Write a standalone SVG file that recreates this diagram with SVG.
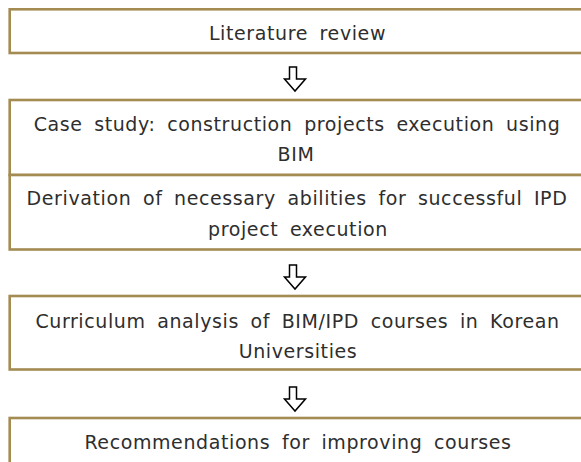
<svg xmlns="http://www.w3.org/2000/svg" width="581" height="462" viewBox="0 0 581 462">
  <style>
    .box { fill: #ffffff; stroke: #a38b52; stroke-width: 2.6; }
    .lbl { font-family: "DejaVu Sans", "Liberation Sans", sans-serif; font-size: 19px; fill: #2e2e2e; text-anchor: middle; word-spacing: 5px; letter-spacing: 0.6px; }
    .arrow { fill: #ffffff; stroke: #000000; stroke-width: 1.5; stroke-linejoin: miter; }
  </style>
  <defs>
    <path id="down" d="M -6 0 H 1 V 12 H 10 L -0.5 24 L -11 12 H -6 Z"/>
  </defs>
  <rect width="581" height="462" fill="#ffffff"/>

  <g id="literature-review">
    <rect class="box" x="9.7" y="9.3" width="600" height="43.7"/>
    <text class="lbl" x="297.5" y="40">Literature review</text>
  </g>

  <g id="case-study">
    <rect class="box" x="9.7" y="100" width="600" height="75"/>
    <text class="lbl" x="297" y="131">Case study: construction projects execution using</text>
    <text class="lbl" x="296" y="161">BIM</text>
  </g>

  <g id="derivation">
    <rect class="box" x="9.7" y="175" width="600" height="74.5"/>
    <text class="lbl" x="297" y="205">Derivation of necessary abilities for successful IPD</text>
    <text class="lbl" x="298" y="236">project execution</text>
  </g>

  <g id="curriculum-analysis">
    <rect class="box" x="9.7" y="296" width="600" height="73.5"/>
    <text class="lbl" x="297.5" y="328">Curriculum analysis of BIM/IPD courses in Korean</text>
    <text class="lbl" x="298" y="358">Universities</text>
  </g>

  <g id="recommendations">
    <rect class="box" x="9.7" y="418" width="600" height="60"/>
    <text class="lbl" x="298" y="449">Recommendations for improving courses</text>
  </g>

  <g id="connectors">
    <use href="#down" class="arrow" x="295.5" y="67"/>
    <use href="#down" class="arrow" x="295.5" y="265"/>
    <use href="#down" class="arrow" x="295.5" y="387"/>
  </g>
</svg>
